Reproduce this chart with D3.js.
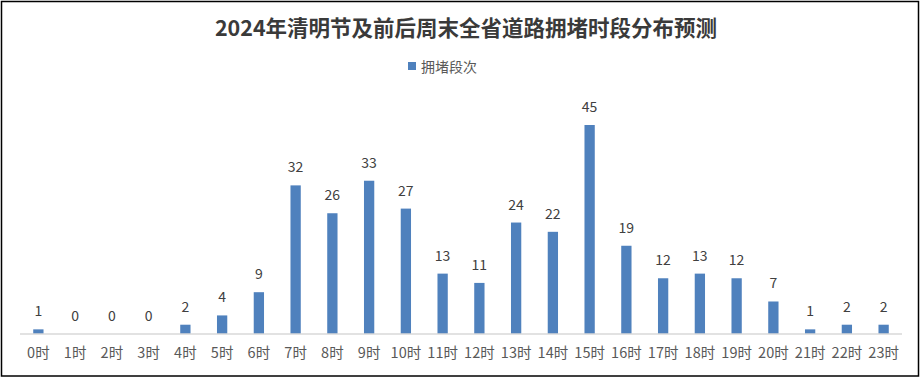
<!DOCTYPE html>
<html><head><meta charset="utf-8">
<script src="https://cdn.jsdelivr.net/npm/d3@7"></script>
<style>body{margin:0;background:#fff;}svg{display:block;}</style>
</head><body>
<svg id="chart" width="921" height="379"></svg>
<script>
const title = "2024年清明节及前后周末全省道路拥堵时段分布预测";
const seriesName = "拥堵段次";
const categories = ["0时","1时","2时","3时","4时","5时","6时","7时","8时","9时","10时","11时","12时","13时","14时","15时","16时","17时","18时","19时","20时","21时","22时","23时"];
const values = [1,0,0,0,2,4,9,32,26,33,27,13,11,24,22,45,19,12,13,12,7,1,2,2];

const svg = d3.select("#chart");
const font = "'Noto Sans CJK SC','Microsoft YaHei',sans-serif";
svg.append("rect").attr("x",1.5).attr("y",1.5).attr("width",917).attr("height",374.5)
  .attr("fill","#fff").attr("stroke","#000").attr("stroke-width",1.5);

const left = 20, right = 902, baseY = 334;
const x = d3.scaleBand().domain(categories).range([left,right]).paddingInner(0.72).paddingOuter(0.36);
const y = d3.scaleLinear().domain([0,45]).range([baseY,125]);

svg.append("text").attr("x",466).attr("y",36).attr("text-anchor","middle")
  .attr("font-family",font).attr("font-weight","bold").attr("font-size",21.5).attr("fill","#3a3a3a").text(title);

svg.append("rect").attr("x",408).attr("y",62).attr("width",8).attr("height",8).attr("fill","#4F81BD");
svg.append("text").attr("x",421).attr("y",71.5).attr("font-family",font).attr("font-size",14).attr("fill","#595959").text(seriesName);

svg.selectAll("rect.bar").data(values).join("rect").attr("class","bar")
  .attr("x",(d,i)=>x(categories[i])).attr("width",x.bandwidth())
  .attr("y",d=>y(d)).attr("height",d=>baseY-y(d)).attr("fill","#4F81BD");

svg.selectAll("text.val").data(values).join("text").attr("class","val")
  .attr("x",(d,i)=>x(categories[i])+x.bandwidth()/2).attr("y",d=>y(d)-13)
  .attr("text-anchor","middle").attr("font-family",font).attr("font-size",14).attr("fill","#404040").text(d=>d);

const axis = d3.axisBottom(x).tickSize(0).tickPadding(14);
const g = svg.append("g").attr("transform",`translate(0,${baseY})`).call(axis);
g.select(".domain").attr("stroke","#d9d9d9").attr("stroke-width",1.5).attr("d",`M${left},0H${right}`);
g.selectAll("text").attr("font-family",font).attr("font-size",14.5).attr("fill","#595959");
</script>
</body></html>
